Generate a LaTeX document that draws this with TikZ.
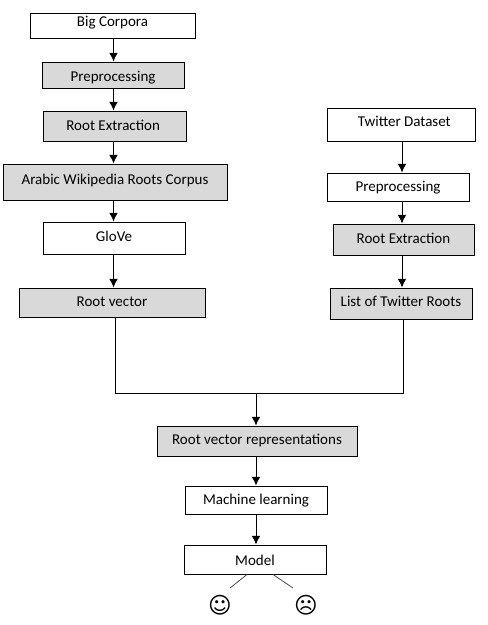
\documentclass[tikz,border=0pt]{standalone}
\usepackage{fontspec}
\setmainfont{Carlito}
\newfontfamily\symfont{DejaVu Sans}
\usetikzlibrary{arrows.meta,calc}
\tikzset{
  x=0.75pt,y=-0.75pt,
  flowbox/.style={draw=black,line width=0.75pt,fill=white,inner sep=0pt,font=\fontsize{11.25}{13}\selectfont},
  greybox/.style={flowbox,fill=boxgrey},
  flow/.style={draw=black,line width=0.75pt,-{Latex[length=6.5pt,width=6.5pt]}},
  plainline/.style={draw=black,line width=0.75pt},
  branch/.style={draw=black!70,line width=0.6pt},
  face/.style={inner sep=0pt,font=\symfont\fontsize{17}{17}\selectfont},
}
\definecolor{boxgrey}{HTML}{D9D9D9}
% #1 style, #2 name, #3 x1, #4 y1, #5 x2, #6 y2, #7 text centre y, #8 text
\newcommand{\flowbox}[8]{%
  \pgfmathsetmacro{\bxc}{(#3+#5)/2}%
  \pgfmathsetmacro{\byc}{(#4+#6)/2}%
  \pgfmathsetmacro{\bw}{(#5-#3)*0.75}%
  \pgfmathsetmacro{\bh}{(#6-#4)*0.75}%
  \pgfmathsetmacro{\brs}{(\byc-#7-5)*0.75}%
  \node[#1,minimum width=\bw pt,minimum height=\bh pt] (#2) at (\bxc,\byc) {\smash{\raisebox{\brs pt}{#8}}};%
}
\begin{document}
\begin{tikzpicture}
\useasboundingbox (0,0) rectangle (487,625);
\flowbox{flowbox}{big}{30}{13}{195}{38}{21}{Big Corpora}
\flowbox{greybox}{pre}{42}{62}{184}{88}{76}{Preprocessing}
\flowbox{greybox}{rex}{43}{111}{186}{141}{125}{Root Extraction\kern 2pt}
\flowbox{greybox}{wiki}{3}{164}{227}{200}{179}{Arabic Wikipedia Roots Corpus}
\flowbox{flowbox}{glove}{43}{222}{185}{254}{236}{GloVe}
\flowbox{greybox}{rv}{19}{288}{205}{317}{301}{Root vector}
\flowbox{flowbox}{tw}{327}{108}{475}{141}{121}{\kern 5pt Twitter Dataset}
\flowbox{flowbox}{tpre}{327}{173}{469}{201}{186}{Preprocessing}
\flowbox{greybox}{trex}{333}{224}{474}{255}{238}{Root Extraction}
\flowbox{greybox}{list}{330}{288}{472}{319}{301}{List of Twitter Roots}
\flowbox{greybox}{reps}{157}{426}{357}{456}{439}{Root vector representations}
\flowbox{flowbox}{ml}{185}{486}{327}{514}{499}{Machine learning}
\flowbox{flowbox}{model}{184}{545}{326}{574}{560}{Model}
\node[face] (smile) at (220,605) {☺};
\node[face] (frown) at (306,605) {☹};
\coordinate (lx) at (113.5,0);
\coordinate (rx) at (402,0);
\coordinate (cx) at (256,0);
\coordinate (mx) at (115,393);
\coordinate (nx) at (403,393);
\coordinate (jn) at (256,393);
\coordinate (sl) at (230,588);
\coordinate (sr) at (293,588);
\coordinate (ml1) at (247,0);
\coordinate (ml2) at (273,0);
\draw[flow] (big.south -| lx) -- (pre.north -| lx);
\draw[flow] (pre.south -| lx) -- (rex.north -| lx);
\draw[flow] (rex.south -| lx) -- (wiki.north -| lx);
\draw[flow] (wiki.south -| lx) -- (glove.north -| lx);
\draw[flow] (glove.south -| lx) -- (rv.north -| lx);
\draw[flow] (tw.south -| rx) -- (tpre.north -| rx);
\draw[flow] (tpre.south -| rx) -- (trex.north -| rx);
\draw[flow] (trex.south -| rx) -- (list.north -| rx);
\draw[plainline] (rv.south -| mx) -- (mx) -- (nx) -- (list.south -| nx);
\draw[flow] (jn) -- (reps.north -| jn);
\draw[flow] (reps.south -| cx) -- (ml.north -| cx);
\draw[flow] (ml.south -| cx) -- (model.north -| cx);
\draw[branch] (model.south -| ml1) -- (sl);
\draw[branch] (model.south -| ml2) -- (sr);
\end{tikzpicture}
\end{document}
